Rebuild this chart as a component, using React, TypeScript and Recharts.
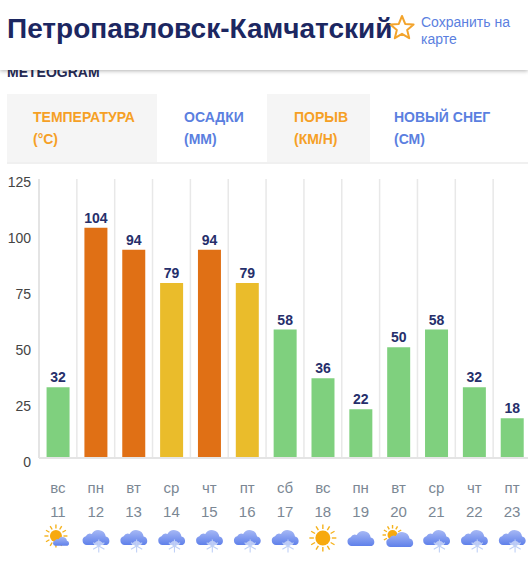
import { BarChart, Bar, XAxis, YAxis, CartesianGrid, Cell, LabelList } from "recharts";

const weekdays = ["вс", "пн", "вт", "ср", "чт", "пт", "сб", "вс", "пн", "вт", "ср", "чт", "пт"];
const dates = ["11", "12", "13", "14", "15", "16", "17", "18", "19", "20", "21", "22", "23"];
const gusts = [32, 104, 94, 79, 94, 79, 58, 36, 22, 50, 58, 32, 18];
const icons = ["sunCloud", "snow", "snow", "snow", "snow", "snow", "snow", "sun", "cloud", "cloudSun", "snow", "snow", "snow"];
const yTicks = [0, 25, 50, 75, 100, 125];

const FONT = "'Liberation Sans', Arial, sans-serif";

const data = dates.map((d, i) => ({ key: i, date: d, gust: gusts[i] }));

function barColor(v: number) {
	if (v >= 90) return "#e07015";
	if (v >= 70) return "#eabc2b";
	return "#7fd07e";
}

const CLOUD = "M-9 8 a4.5 4.5 0 0 1 -1 -8.8 a5 5 0 0 1 6 -2.2 a7.5 7.5 0 0 1 14 2.5 a4.5 4.5 0 0 1 1 8.5 z";

function Cloud({ scale = 1, x = 0, y = 0 }: any) {
	return <path d={CLOUD} transform={`translate(${x},${y}) scale(${scale})`} fill="url(#cloudFill)" />;
}

function Sun({ x = 0, y = 0, r = 7, len = 5 }: any) {
	const rays = [0, 30, 60, 90, 120, 150, 180, 210, 240, 270, 300, 330];
	return (
		<g transform={`translate(${x},${y})`}>
			{rays.map((a) => (
				<line key={a} x1={r + 1.5} y1={0} x2={r + 1.5 + len} y2={0} stroke="#f5b21c" strokeWidth={1.4} transform={`rotate(${a})`} />
			))}
			<circle r={r} fill="#f7a90f" />
		</g>
	);
}

function Flake({ x = 0, y = 0 }: any) {
	return (
		<g transform={`translate(${x},${y})`}>
			<circle r={5} fill="#fff" opacity={0.55} />
			<g stroke="#bfd0f6" strokeWidth={1.1}>
				{[0, 60, 120].map((a) => (
					<line key={a} x1={0} y1={-6.5} x2={0} y2={6.5} transform={`rotate(${a})`} />
				))}
			</g>
		</g>
	);
}

function WeatherIcon({ kind }: { kind: string }) {
	if (kind === "sun") return <Sun y={-2} r={7.5} len={4.5} />;
	if (kind === "cloud") return <Cloud y={-2} />;
	if (kind === "cloudSun")
		return (
			<g>
				<Sun x={-6} y={-5} r={5} len={3.5} />
				<Cloud x={1} y={-1} />
			</g>
		);
	if (kind === "sunCloud")
		return (
			<g>
				<Sun x={-2} y={-4} r={6} len={4} />
				<Cloud x={3} y={1} scale={0.6} />
			</g>
		);
	return (
		<g>
			<Cloud x={0} y={-3} />
			<Flake x={3} y={6} />
		</g>
	);
}

function DayTick({ x, y, payload }: any) {
	const i = payload.index;
	return (
		<g fontFamily={FONT} fontSize={15} fill="#7b8794" textAnchor="middle">
			<text x={x} y={y + 27}>{weekdays[i]}</text>
			<text x={x} y={y + 51}>{dates[i]}</text>
			<g transform={`translate(${x},${y + 74})`}>
				<WeatherIcon kind={icons[i]} />
			</g>
		</g>
	);
}

function ValueTick({ x, y, payload }: any) {
	return (
		<text x={x} y={y + 9 - payload.value * 0.026} textAnchor="end" fontFamily={FONT} fontSize={14} fill="#444">
			{payload.value}
		</text>
	);
}

function Tab({ left, width, bg, color, lines, pad = 25 }: any) {
	return (
		<div style={{ position: "absolute", left, top: 94, width, height: 68, background: bg }}>
			{lines.map((t: string, i: number) => (
				<div key={t} style={{ position: "absolute", left: pad, top: 15 + i * 21.5, fontWeight: 700, fontSize: 14, color, whiteSpace: "nowrap" }}>
					{t}
				</div>
			))}
		</div>
	);
}

export default function App() {
	return (
		<div style={{ position: "absolute", left: 0, top: 0, width: 528, height: 568, overflow: "hidden", background: "#fff", fontFamily: FONT }}>
			<div style={{ position: "absolute", left: 7, top: 64, fontWeight: 700, fontSize: 14, color: "#262b55" }}>METEOGRAM</div>
			<div style={{ position: "absolute", left: 0, top: 0, width: 528, height: 70, background: "#fff", boxShadow: "0 1px 4px rgba(0,0,0,0.3)" }}>
				<div style={{ position: "absolute", left: 7, top: 13, fontWeight: 700, fontSize: 28, color: "#1c2761", whiteSpace: "nowrap" }}>
					Петропавловск-Камчатский
				</div>
				<svg style={{ position: "absolute", left: 389, top: 14 }} width={26} height={26} viewBox="0 0 26 26">
					<path d="M13 2 L16.2 9.9 L24.6 10.5 L18.2 16 L20.2 24.2 L13 19.8 L5.8 24.2 L7.8 16 L1.4 10.5 L9.8 9.9 Z" fill="none" stroke="#f3a42c" strokeWidth={2} strokeLinejoin="round" />
				</svg>
				<div style={{ position: "absolute", left: 421, top: 14, fontSize: 14, lineHeight: "17px", color: "#5b7fe0", width: 100 }}>
					Сохранить на карте
				</div>
			</div>

			<Tab left={7} width={150} pad={26} bg="#f5f5f5" color="#f5a025" lines={["ТЕМПЕРАТУРА", "(°C)"]} />
			<Tab left={157} width={110} pad={27} bg="#fff" color="#5b7fe0" lines={["ОСАДКИ", "(ММ)"]} />
			<Tab left={267} width={103} pad={27} bg="#f5f5f5" color="#f5a025" lines={["ПОРЫВ", "(КМ/Н)"]} />
			<Tab left={370} width={158} pad={24} bg="#fff" color="#5b7fe0" lines={["НОВЫЙ СНЕГ", "(СМ)"]} />
			<div style={{ position: "absolute", left: 7, top: 162, width: 521, height: 2, background: "#f0f0f0" }} />

			<div style={{ position: "absolute", left: 0, top: 170 }}>
				<BarChart width={531} height={398} data={data} barCategoryGap="20%" margin={{ top: 9, right: 0, bottom: 0, left: 0 }}>
					<defs>
						<linearGradient id="cloudFill" x1="0" y1="0" x2="0" y2="1">
							<stop offset="0%" stopColor="#a6b8f5" />
							<stop offset="100%" stopColor="#5f80ea" />
						</linearGradient>
					</defs>
					<CartesianGrid
						horizontal={false}
						stroke="#e8e8e8"
						strokeWidth={1.5}
						verticalCoordinatesGenerator={({ offset }: any) =>
							dates.map((_, i) => offset.left + (i * offset.width) / dates.length)
						}
					/>
					<XAxis
						dataKey="key"
						interval={0}
						height={110}
						tick={<DayTick />}
						tickLine={false}
						axisLine={{ stroke: "#e4e4e4", strokeWidth: 2 }}
					/>
					<YAxis
						width={39}
						domain={[0, 126]}
						ticks={yTicks}
						tick={<ValueTick />}
						tickLine={false}
						axisLine={{ stroke: "#e4e4e4", strokeWidth: 2 }}
					/>
					<Bar dataKey="gust" isAnimationActive={false}>
						{gusts.map((v, i) => (
							<Cell key={i} fill={barColor(v)} />
						))}
						<LabelList dataKey="gust" position="top" fill="#262f6b" fontSize={14} fontWeight={700} fontFamily={FONT} />
					</Bar>
				</BarChart>
			</div>
		</div>
	);
}
